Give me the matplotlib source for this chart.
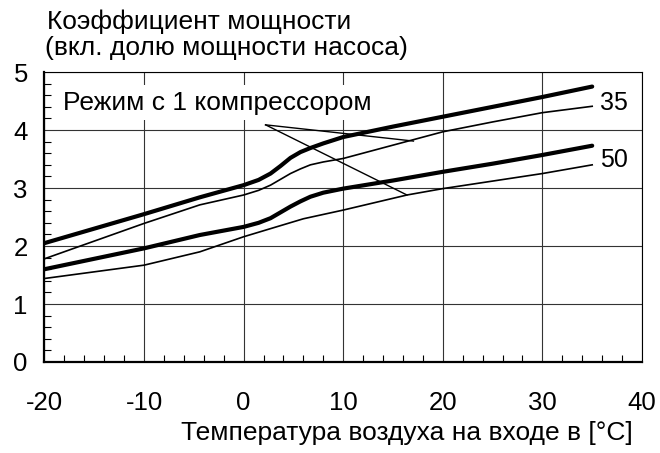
import matplotlib.pyplot as plt
from matplotlib.ticker import MultipleLocator

plt.rcParams['font.family'] = ['Liberation Sans', 'DejaVu Sans']
plt.rcParams['axes.unicode_minus'] = False

# --- data ---
x35_full = [-20, -10, -4.4, 0, 1.5, 2.7, 3.7, 4.7, 5.7, 6.7, 8, 10, 15, 20, 25, 30, 35]
y35_full = [2.05, 2.55, 2.84, 3.05, 3.14, 3.25, 3.38, 3.52, 3.62, 3.69, 3.77, 3.88, 4.06, 4.23, 4.40, 4.57, 4.75]

x35_one = [-20, -10, -4.4, 0, 1.5, 2.7, 3.7, 4.7, 5.7, 6.7, 8, 10, 15, 20, 25, 30, 35]
y35_one = [1.78, 2.39, 2.71, 2.88, 2.96, 3.05, 3.15, 3.25, 3.33, 3.40, 3.45, 3.51, 3.74, 3.97, 4.14, 4.30, 4.41]

x50_full = [-20, -10, -4.4, 0, 1.5, 2.7, 3.7, 4.7, 5.7, 6.7, 8, 10, 15, 20, 25, 30, 35]
y50_full = [1.60, 1.96, 2.19, 2.33, 2.40, 2.48, 2.58, 2.68, 2.77, 2.85, 2.92, 2.99, 3.13, 3.28, 3.42, 3.57, 3.73]

x50_one = [-20, -10, -4.4, 0, 2.7, 6, 10, 16.4, 20, 25, 30, 35]
y50_one = [1.44, 1.67, 1.90, 2.16, 2.30, 2.47, 2.62, 2.88, 2.99, 3.12, 3.25, 3.40]

x_ticks = [-20, -10, 0, 10, 20, 30, 40]
y_ticks = [0, 1, 2, 3, 4, 5]

fig = plt.figure(figsize=(6.6, 4.53), dpi=100)
ax = fig.add_axes([0.0674, 0.2009, 0.9053, 0.640])

ax.plot(x35_full, y35_full, color='black', lw=3.0, solid_capstyle='round', zorder=4)
ax.plot(x35_one, y35_one, color='black', lw=1.2, zorder=4)
ax.plot(x50_full, y50_full, color='black', lw=3.0, solid_capstyle='round', zorder=4)
ax.plot(x50_one, y50_one, color='black', lw=1.2, zorder=4)

ax.text(35.8, 4.47, '35', fontsize=18, va='center', ha='left')
ax.text(35.8, 3.48, '50', fontsize=18, va='center', ha='left')

# annotation for single compressor mode
ax.text(-18.1, 4.47, 'Режим с 1 компрессором', fontsize=19, va='center', ha='left',
        bbox=dict(facecolor='white', edgecolor='none', pad=4), zorder=3)
ax.plot([2.2, 17.05], [4.09, 3.81], color='black', lw=1.0, zorder=4)
ax.plot([2.2, 16.4], [4.09, 2.88], color='black', lw=1.0, zorder=4)

ax.set_xlim(-20, 40)
ax.set_ylim(0, 5)
ax.set_xticks(x_ticks)
ax.set_yticks(y_ticks)
ax.xaxis.set_minor_locator(MultipleLocator(2))
ax.yaxis.set_minor_locator(MultipleLocator(0.2))
ax.grid(True, which='major', color='#333333', lw=0.8, zorder=1)
ax.tick_params(which='major', direction='in', length=0, labelsize=18.5, pad=12)
ax.tick_params(axis='x', which='major', pad=21)
ax.tick_params(which='minor', direction='in', length=5, width=0.8)
ax.tick_params(top=False, right=False, which='both')

for side in ['left', 'bottom']:
    ax.spines[side].set_linewidth(1.6)
for side in ['top', 'right']:
    ax.spines[side].set_linewidth(0.8)

fig.text(0.071, 0.951, 'Коэффициент мощности', fontsize=19, va='center', ha='left')
fig.text(0.068, 0.894, '(вкл. долю мощности насоса)', fontsize=19, va='center', ha='left')
fig.text(0.958, 0.044, 'Температура воздуха на входе в [°C]', fontsize=19, va='center', ha='right')

fig.savefig('out.png', dpi=100)
